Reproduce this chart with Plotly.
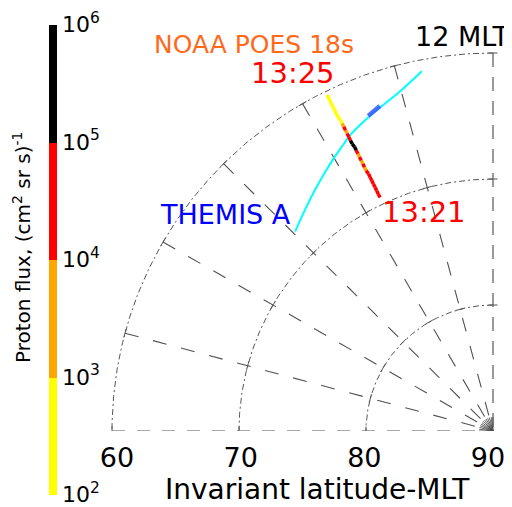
import numpy as np
import plotly.graph_objects as go

# ---------------- data ----------------
lat_ticks = [60, 70, 80, 90]
lat_circles = [60, 70, 80]
mlt_hours = [12, 13, 14, 15, 16, 17, 18]
flux_exponents = [2, 3, 4, 5, 6]

# NOAA POES 18 track, 13:21 (poleward end) -> 13:25 (equatorward end)
poes_lat = [69.45, 69.15, 68.85, 68.55, 68.25, 67.95, 67.65, 67.35,
            67.05, 66.75, 66.45, 66.15, 65.85, 65.55, 65.25, 64.95,
            64.65, 64.35, 64.05, 63.75, 63.45, 63.15, 62.85, 62.55,
            62.25, 61.95, 61.65, 61.35, 61.05, 60.75, 60.45, 60.30]
poes_mlt = [13.71, 13.71, 13.71, 13.71, 13.71, 13.71, 13.71, 13.71,
            13.72, 13.72, 13.72, 13.72, 13.72, 13.72, 13.72, 13.72,
            13.73, 13.73, 13.73, 13.73, 13.73, 13.73, 13.73, 13.73,
            13.74, 13.74, 13.74, 13.74, 13.74, 13.74, 13.74, 13.74]
poes_logflux = [4.5, 4.6, 4.4, 4.5, 4.6, 4.5, 4.4, 4.5,
                3.8, 4.4, 3.7, 4.5, 3.9, 4.6, 5.3, 5.5,
                5.4, 4.7, 4.5, 3.8, 4.3, 3.6, 2.6, 2.7,
                2.5, 2.6, 2.7, 2.6, 2.5, 2.6, 2.7, 2.6]

# THEMIS A footprint
themis_lat = [67.79, 67.05, 66.30, 65.56, 65.00, 64.30, 64.06, 63.17, 62.13, 60.90]
themis_mlt = [14.97, 14.68, 14.42, 14.18, 14.01, 13.80, 13.74, 13.41, 13.03, 12.74]
themis_seg_lat = [63.13, 62.71]
themis_seg_mlt = [13.43, 13.27]

# ---------------- geometry helpers ----------------
OFF = 8                      # page body margin of the html page
WIN_W, WIN_H = 512, 507
W, H = WIN_W - OFF, WIN_H - OFF
ML, MR, MT, MB = 100 - OFF, 10, 20 - OFF, 76
PW, PH = W - ML - MR, H - MT - MB
PXX, PXY = 12.7, 12.6
X0 = 60 - (112 - 100) / PXX
X1 = X0 + PW / PXX
Y1 = PH / PXY
# label axis (tick labels sit slightly inside the grid, as in the original)
LBL = 371 / 30
X0L = 60 - (117 - 100) / LBL
X1L = X0L + PW / LBL


def to_xy(lat, mlt):
    lat = np.asarray(lat, float)
    mlt = np.asarray(mlt, float)
    r = 90.0 - lat
    phi = np.radians((mlt - 12.0) * 15.0)
    return 90.0 - r * np.sin(phi), r * np.cos(phi)


def px_x(px):  # window pixel -> paper
    return (px - OFF - ML) / PW


def px_y(py):
    return (H - MB - (py - OFF)) / PH


FONT = "DejaVu Sans"
fig = go.Figure()


def add_line(x, y, color, width, dash="solid"):
    fig.add_trace(go.Scatter(x=list(x), y=list(y), mode="lines",
                             line=dict(color=color, width=width, dash=dash),
                             hoverinfo="skip", showlegend=False, cliponaxis=False))


# latitude circles (dash-dot)
mlt_fine = np.linspace(12, 18, 241)
for lat in lat_circles:
    x, y = to_xy(np.full_like(mlt_fine, lat), mlt_fine)
    add_line(x, y, "#555555", 1, "6px,3px,2px,3px")

# MLT radial lines
for h in mlt_hours:
    x, y = to_xy([60, 90], [h, h])
    if h == 18:
        add_line(x, y, "#a8a8a8", 2.2, "13px,12px")
    elif h == 12:
        add_line(x, y, "#707070", 1.4, "14px,10px")
    else:
        add_line(x, y, "#505050", 1.1, "14px,15px")

# small tangent ticks at intersections
tx, ty = [], []
for lat in lat_circles:
    for h in mlt_hours:
        cx, cy = to_xy(lat, h)
        phi = np.radians((h - 12) * 15)
        dx, dy = np.cos(phi) * 4.5 / PXX, np.sin(phi) * 4.5 / PXY
        tx += [cx - dx, cx + dx, None]
        ty += [cy - dy, cy + dy, None]
add_line(tx, ty, "#555555", 1)

# hub fan at the pole
fx, fy = [], []
for h in np.arange(12, 18.01, 0.5):
    x, y = to_xy([90, 88.9], [h, h])
    fx += [x[0], x[1], None]
    fy += [y[0], y[1], None]
add_line(fx, fy, "#505050", 0.9)

# THEMIS A
x, y = to_xy(themis_lat, themis_mlt)
fig.add_trace(go.Scatter(x=x, y=y, mode="lines", line=dict(color="#00FFFF", width=2, shape="spline"),
                         hoverinfo="skip", showlegend=False))
x, y = to_xy(themis_seg_lat, themis_seg_mlt)
fig.add_trace(go.Scatter(x=x, y=y, mode="lines", line=dict(color="#3355FF", width=4.5),
                         opacity=0.85, hoverinfo="skip", showlegend=False))

# POES track coloured by flux
colors = ["#FFFF00", "#FFA500", "#FF0000", "#000000"]
cscale = [[0, colors[0]], [0.25, colors[0]], [0.25, colors[1]], [0.5, colors[1]],
          [0.5, colors[2]], [0.75, colors[2]], [0.75, colors[3]], [1, colors[3]]]
px_, py_ = to_xy(poes_lat, poes_mlt)
seg = {c: ([], []) for c in colors}
for i in range(len(poes_lat) - 1):
    k = int(min(max(np.floor(poes_logflux[i] - 2), 0), 3))
    seg[colors[k]][0].extend([px_[i], px_[i + 1], None])
    seg[colors[k]][1].extend([py_[i], py_[i + 1], None])
for c in colors:
    fig.add_trace(go.Scatter(x=seg[c][0], y=seg[c][1], mode="lines",
                             line=dict(color=c, width=3.5), hoverinfo="skip", showlegend=False))

# colorbar carrier
fig.add_trace(go.Scatter(
    x=px_, y=py_, mode="markers", hoverinfo="skip", showlegend=False,
    marker=dict(size=1, opacity=0, color=poes_logflux, colorscale=cscale, cmin=2, cmax=6,
                showscale=True,
                colorbar=dict(x=px_x(49), xanchor="left", xpad=0, y=px_y(259.5), yanchor="middle",
                              ypad=0, len=470, lenmode="pixels", thickness=8, outlinewidth=0,
                              tickvals=flux_exponents,
                              ticktext=[f"10<sup>{e}</sup>" for e in flux_exponents],
                              ticklabeloverflow="allow",
                              ticks="", tickfont=dict(family=FONT, size=22, color="black")))))

# invisible carrier for the latitude label axis
fig.add_trace(go.Scatter(x=lat_ticks, y=[0] * len(lat_ticks), xaxis="x2", mode="markers",
                         marker=dict(size=1, opacity=0), hoverinfo="skip", showlegend=False))

# text (positions in window pixels)
ann = [
    ("NOAA POES 18s", 254, 44, 25, "#FF6A1A"),
    ("13:25", 292.5, 72.5, 29, "#FF0000"),
    ("12 MLT", 462, 37, 27, "#000000"),
    ("THEMIS A", 225, 214.5, 27, "#0000FF"),
    ("13:21", 424, 212, 29, "#FF0000"),
    ("Invariant latitude-MLT", 317.5, 489, 28, "#000000"),
]
for t, xx, yy, s, c in ann:
    fig.add_annotation(text=t, x=px_x(xx), y=px_y(yy), xref="paper", yref="paper",
                       showarrow=False, xanchor="center", yanchor="middle",
                       font=dict(family=FONT, size=s, color=c))
fig.add_annotation(text="Proton flux, (cm<sup>2</sup> sr s)<sup>-1</sup>", x=px_x(22.5), y=px_y(247.5),
                   xref="paper", yref="paper", showarrow=False, textangle=-90,
                   xanchor="center", yanchor="middle", font=dict(family=FONT, size=20, color="black"))

fig.update_layout(
    width=W, height=H, margin=dict(l=ML, r=MR, t=MT, b=MB, autoexpand=False),
    paper_bgcolor="white", plot_bgcolor="white", showlegend=False,
    xaxis=dict(range=[X0, X1], showticklabels=False,
               showgrid=False, zeroline=False, showline=False, ticks=""),
    xaxis2=dict(range=[X0L, X1L], overlaying="x", side="bottom", anchor="y",
                tickvals=lat_ticks, ticktext=[str(v) for v in lat_ticks],
                showgrid=False, zeroline=False, showline=False, ticks="",
                ticklabeloverflow="allow",
                tickfont=dict(family=FONT, size=27, color="black"), ticklabelstandoff=8),
    yaxis=dict(range=[0, Y1], visible=False, showgrid=False, zeroline=False),
)
fig.write_html("out.html")
